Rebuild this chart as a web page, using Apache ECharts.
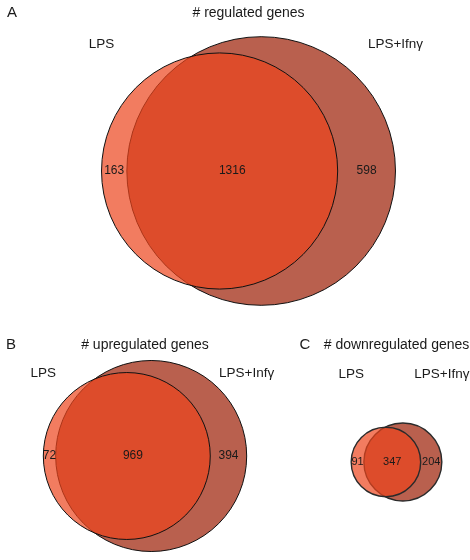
<!DOCTYPE html>
<html>
<head>
<meta charset="utf-8">
<script src="https://cdn.jsdelivr.net/npm/echarts@6/dist/echarts.min.js"></script>
<style>
  html, body { margin: 0; padding: 0; background: #fff; }
  #chart { width: 470px; height: 560px; }
</style>
</head>
<body>
<div id="chart"></div>
<script>
// Gene counts per Venn panel
const panelLetters = ['A', 'B', 'C'];
const panelTitles = ['# regulated genes', '# upregulated genes', '# downregulated genes'];
const leftSetNames = ['LPS', 'LPS', 'LPS'];
const rightSetNames = ['LPS+Ifnγ', 'LPS+Infγ', 'LPS+Ifnγ'];
const lpsOnly = [163, 72, 91];
const shared = [1316, 969, 347];
const comboOnly = [598, 394, 204];

// Layout of each panel (pixels)
const panelCx = [248.5, 145, 396.5];
const panelCy = [171, 462, 462];
const pxPerUnit = [3.07, 2.587, 1.66];
const panelHalf = [150, 110, 60];
const headerY = [13, 345, 345];
const letterX = [12, 11, 305];
const setNameY = [44, 373, 374];
const countFont = [12, 12, 11];
const strokeWidth = [1, 1, 1.4];
const strokeColor = ['#111', '#111', '#2a2a2a'];

const FONT = '"Liberation Sans", Arial, Helvetica, sans-serif';
const FILL_COMBO = '#B9604E';
const FILL_LPS = 'rgba(236, 68, 28, 0.7)';

// Area of the lens where two circles overlap
function lensArea(r1, r2, d) {
  if (d >= r1 + r2) return 0;
  if (d <= Math.abs(r1 - r2)) return Math.PI * Math.min(r1, r2) ** 2;
  const a1 = Math.acos((d * d + r1 * r1 - r2 * r2) / (2 * d * r1));
  const a2 = Math.acos((d * d + r2 * r2 - r1 * r1) / (2 * d * r2));
  const k = Math.sqrt((-d + r1 + r2) * (d + r1 - r2) * (d - r1 + r2) * (d + r1 + r2));
  return r1 * r1 * a1 + r2 * r2 * a2 - 0.5 * k;
}

// Centre distance giving an overlap area proportional to the shared count
function solveDistance(r1, r2, target) {
  let lo = Math.abs(r1 - r2), hi = r1 + r2;
  for (let i = 0; i < 80; i++) {
    const mid = (lo + hi) / 2;
    if (lensArea(r1, r2, mid) > target) lo = mid; else hi = mid;
  }
  return (lo + hi) / 2;
}

const grids = [], xAxes = [], yAxes = [], series = [], graphics = [];

panelLetters.forEach((letter, i) => {
  // radii in units where circle area = pi * count
  const r1 = Math.sqrt(lpsOnly[i] + shared[i]);
  const r2 = Math.sqrt(shared[i] + comboOnly[i]);
  const d = solveDistance(r1, r2, Math.PI * shared[i]);
  const c1 = (r1 - d - r2) / 2;
  const c2 = c1 + d;

  const s = pxPerUnit[i], h = panelHalf[i];
  grids.push({ left: panelCx[i] - h, top: panelCy[i] - h, width: 2 * h, height: 2 * h, containLabel: false });
  const axisBase = { type: 'value', min: -h / s, max: h / s, show: false, gridIndex: i };
  xAxes.push(Object.assign({}, axisBase));
  yAxes.push(Object.assign({}, axisBase));

  // circles: LPS+Ifnγ underneath, LPS on top
  series.push({
    type: 'custom',
    xAxisIndex: i, yAxisIndex: i,
    silent: true, animation: false, clip: false,
    data: [[c2, 0, r2, 0], [c1, 0, r1, 1]],
    renderItem: (params, api) => {
      const c = api.coord([api.value(0), api.value(1)]);
      const rPx = api.size([api.value(2), 0])[0];
      const isLps = api.value(3) === 1;
      return {
        type: 'circle',
        shape: { cx: c[0], cy: c[1], r: rPx },
        style: {
          fill: isLps ? FILL_LPS : FILL_COMBO,
          stroke: strokeColor[i],
          lineWidth: strokeWidth[i]
        }
      };
    }
  });

  // count labels at the middle of each region along the centre line
  const xLeftOnly = ((c1 - r1) + (c2 - r2)) / 2;
  const xShared = ((c2 - r2) + (c1 + r1)) / 2;
  const xRightOnly = ((c1 + r1) + (c2 + r2)) / 2;
  series.push({
    type: 'custom',
    xAxisIndex: i, yAxisIndex: i,
    silent: true, animation: false, clip: false, z: 5,
    data: [[xLeftOnly, 0, lpsOnly[i]], [xShared, 0, shared[i]], [xRightOnly, 0, comboOnly[i]]],
    renderItem: (params, api) => {
      const c = api.coord([api.value(0), api.value(1)]);
      return {
        type: 'text',
        style: {
          text: String(api.value(2)),
          x: c[0], y: c[1],
          align: 'center', verticalAlign: 'middle',
          fontSize: countFont[i], fontFamily: FONT, fill: '#1a1a1a'
        }
      };
    }
  });

  const textStyle = (text, x, y, size) => ({
    type: 'text', x: x, y: y, silent: true,
    style: { text, align: 'center', verticalAlign: 'middle', fontSize: size, fontFamily: FONT, fill: '#1a1a1a' }
  });
  graphics.push(textStyle(letter, letterX[i], headerY[i], 15));
  graphics.push(textStyle(panelTitles[i], panelCx[i], headerY[i], 14));
  graphics.push(textStyle(leftSetNames[i], panelCx[i] + s * (c1 - r1), setNameY[i], 13.5));
  graphics.push(textStyle(rightSetNames[i], panelCx[i] + s * (c2 + r2), setNameY[i], 13.5));
});

const chart = echarts.init(document.getElementById('chart'), null, { renderer: 'canvas' });
chart.setOption({
  animation: false,
  backgroundColor: '#ffffff',
  grid: grids,
  xAxis: xAxes,
  yAxis: yAxes,
  series: series,
  graphic: graphics
});
</script>
</body>
</html>
